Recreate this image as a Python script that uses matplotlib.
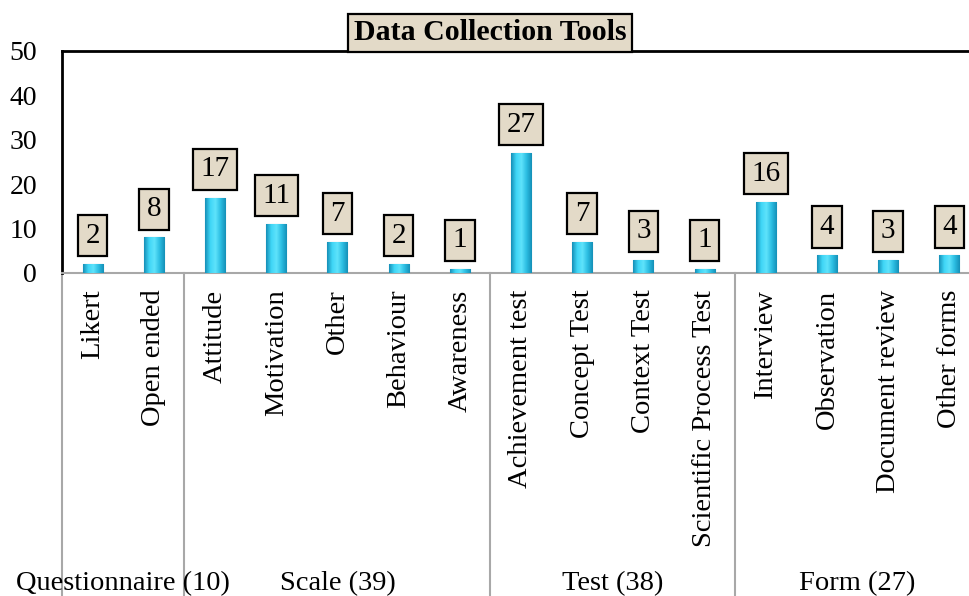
import numpy as np
import matplotlib
matplotlib.use("Agg")
import matplotlib.pyplot as plt
import matplotlib.transforms as mtrans
from matplotlib.colors import LinearSegmentedColormap

plt.rcParams['font.family'] = ['Liberation Serif', 'DejaVu Serif']

categories = ['Likert', 'Open ended',
              'Attitude', 'Motivation', 'Other', 'Behaviour', 'Awareness',
              'Achievement test', 'Concept Test', 'Context Test', 'Scientific Process Test',
              'Interview', 'Observation', 'Document review', 'Other forms']
values = [2, 8, 17, 11, 7, 2, 1, 27, 7, 3, 1, 16, 4, 3, 4]
group_names = ['Questionnaire (10)', 'Scale (39)', 'Test (38)', 'Form (27)']
group_sizes = [2, 5, 4, 4]

W, H = 970, 596
fig = plt.figure(figsize=(W / 100, H / 100), dpi=100)
ax = fig.add_axes([62 / W, (H - 273) / H, 918 / W, 222 / H])

x = np.arange(len(categories))
bars = ax.bar(x, values, width=0.33, color='#2cc3e6', edgecolor='#5a9fb5',
              linewidth=0.8, zorder=3)

# cylinder shading
cyl = LinearSegmentedColormap.from_list('cyl', ['#1690b8', '#3fd6f6', '#5fe3fb', '#2bbde2', '#1590b8'])
grad = np.linspace(0, 1, 64).reshape(1, -1)
for b in bars:
    x0, w, h = b.get_x(), b.get_width(), b.get_height()
    im = ax.imshow(grad, cmap=cyl, extent=(x0, x0 + w, 0, h), aspect='auto', zorder=3.5)
    im.set_clip_path(b)

ax.set_xlim(-0.5, len(categories) - 0.5)
ax.set_ylim(0, 50)
ax.set_yticks(range(0, 51, 10))
ax.set_xticks(x)
ax.set_xticklabels(categories, rotation=90, fontsize=20.5)
ax.tick_params(axis='x', length=0, pad=12)
ax.tick_params(axis='y', length=0, pad=18, labelsize=20)

ax.spines['right'].set_visible(False)
ax.spines['left'].set_color('black')
ax.spines['left'].set_linewidth(2)
ax.spines['top'].set_color('black')
ax.spines['top'].set_linewidth(2)
ax.spines['bottom'].set_color('#a8a8a8')
ax.spines['bottom'].set_linewidth(1.5)

# value labels in boxes
for xi, v in zip(x, values):
    ax.annotate(str(v), (xi, v), xytext=(0, 11), textcoords='offset points',
                ha='center', va='bottom', fontsize=21, zorder=5,
                bbox=dict(boxstyle='square,pad=0.26', facecolor='#e3dac8',
                          edgecolor='black', linewidth=1.6))

# group separators and group labels
blend = mtrans.blended_transform_factory(ax.transData, fig.transFigure)
bounds = np.concatenate([[0], np.cumsum(group_sizes)]) - 0.5
ybot = (H - 273) / H
for b in bounds:
    ax.plot([b, b], [ybot, 0], transform=blend, color='#a8a8a8', lw=1.5, clip_on=False)
for name, lo, hi in zip(group_names, bounds[:-1], bounds[1:]):
    ax.text((lo + hi) / 2, 6 / H, name, transform=blend, ha='center', va='baseline', fontsize=20.5)

fig.text(490 / W, (H - 33) / H, 'Data Collection Tools', ha='center', va='center',
         fontsize=21.5, fontweight='bold', zorder=10,
         bbox=dict(boxstyle='square,pad=0.2', facecolor='#e3dac8', edgecolor='black', linewidth=1.6))

fig.savefig('out.png', dpi=100)
